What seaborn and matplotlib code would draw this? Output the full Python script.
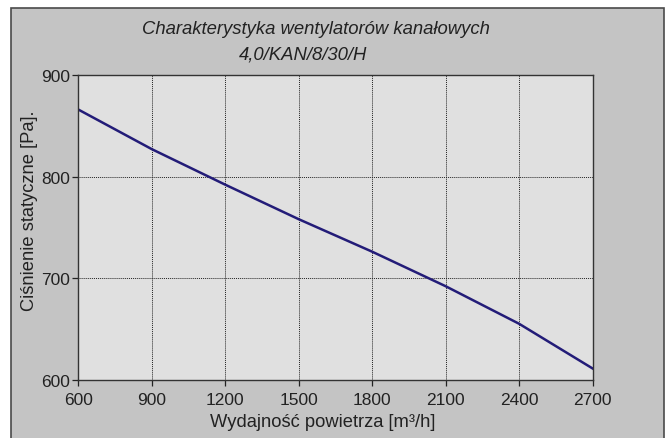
import numpy as np
import pandas as pd
import seaborn as sns
import matplotlib.pyplot as plt
from matplotlib.patches import Rectangle

flow = [600, 900, 1200, 1500, 1800, 2100, 2400, 2700]
pressure = [866, 827, 792, 758, 726, 692, 655, 611]
xticks = [600, 900, 1200, 1500, 1800, 2100, 2400, 2700]
yticks = [600, 700, 800, 900]

df = pd.DataFrame({"flow": flow, "pressure": pressure})

plt.rcParams["font.family"] = ["Liberation Sans", "DejaVu Sans"]

W, H = 665, 439
fig = plt.figure(figsize=(W / 100, H / 100), dpi=100)
fig.patch.set_facecolor("white")

# gray outer panel
fig.patches.append(Rectangle((11 / W, -0.01), (664 - 11) / W, 1 - 9 / H + 0.01,
                             transform=fig.transFigure, facecolor="#c4c4c4",
                             edgecolor="#4a4a4a", linewidth=1.2, zorder=-5))

ax = fig.add_axes([78.3 / W, 1 - 380.7 / H, (592.7 - 78.3) / W, (380.7 - 76) / H])
ax.set_zorder(2)
ax.set_facecolor("#e0e0e0")

sns.lineplot(data=df, x="flow", y="pressure", ax=ax, color="#231c78", linewidth=1.8)

ax.set_xlim(600, 2700)
ax.set_ylim(600, 900)
ax.set_xticks(xticks)
ax.set_yticks(yticks)
ax.tick_params(labelsize=12.5, colors="#222222", length=4, width=0.9)
ax.tick_params(axis="x", pad=5)
ax.tick_params(axis="y", pad=2)
for v in xticks[1:-1]:
    ax.axvline(v, color="#222222", linestyle=(0, (1, 1)), linewidth=0.7, zorder=1)
for v in yticks[1:-1]:
    ax.axhline(v, color="#222222", linestyle=(0, (1, 1)), linewidth=0.7, zorder=1)
for s in ax.spines.values():
    s.set_color("#333333")
    s.set_linewidth(1.0)
ax.set_xlabel("")
ax.set_ylabel("")

fig.text(323 / W, 1 - 423 / H, "Wydajność powietrza [m³/h]", ha="center", va="center",
         fontsize=13.2, color="#222222", zorder=3)
fig.text(30 / W, 1 - 211 / H, "Ciśnienie statyczne [Pa].", ha="center", va="center",
         rotation=90, fontsize=13.2, color="#222222", zorder=3)

fig.text(316 / W, 1 - 30 / H, "Charakterystyka wentylatorów kanałowych", ha="center",
         va="center", fontsize=13.3, style="italic", color="#222222", zorder=3)
fig.text(303 / W, 1 - 55 / H, "4,0/KAN/8/30/H", ha="center", va="center",
         fontsize=13.3, style="italic", color="#222222", zorder=3)

fig.savefig("out.png", dpi=100, facecolor="white")
